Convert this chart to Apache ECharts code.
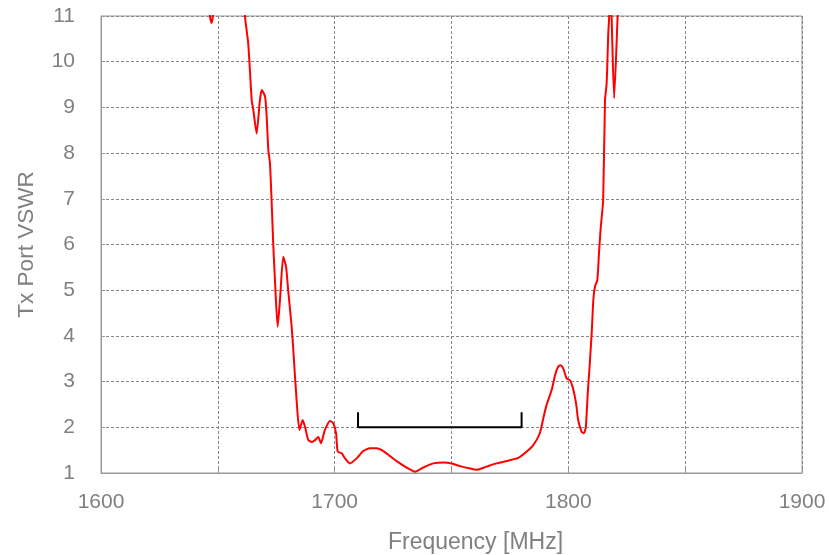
<!DOCTYPE html>
<html>
<head>
<meta charset="utf-8">
<script src="https://cdn.jsdelivr.net/npm/echarts@6/dist/echarts.min.js"></script>
<style>html,body{margin:0;padding:0;background:#fff;}#chart{width:829px;height:555px;}</style>
</head>
<body>
<div id="chart"></div>
<script>
var freq = [1640, 1645.6, 1646.6, 1647.3, 1647.9, 1648.8, 1660.5, 1661.6, 1663.0, 1663.8, 1664.5, 1665.2, 1666.6, 1668.0, 1668.8, 1670.2, 1670.9, 1671.6, 1672.3, 1673.0, 1673.7, 1674.5, 1675.6, 1676.6, 1678.0, 1679.2, 1680.1, 1681.6, 1682.3, 1683.7, 1684.9, 1686.3, 1687.3, 1688.7, 1690.2, 1691.6, 1693.0, 1694.1, 1695.8, 1698.0, 1699.4, 1700.6, 1701.3, 1703.0, 1704.4, 1706.5, 1709.4, 1712.2, 1715.1, 1718.0, 1720.8, 1723.7, 1726.5, 1730.8, 1734.4, 1737.9, 1742.2, 1746.5, 1750.1, 1753.6, 1757.9, 1760.8, 1765.0, 1769.3, 1775.0, 1778.6, 1782.2, 1785.0, 1787.8, 1789.3, 1790.7, 1792.9, 1794.3, 1795.7, 1796.7, 1797.8, 1799.3, 1800.7, 1801.8, 1802.8, 1803.5, 1804.2, 1805.7, 1806.7, 1807.5, 1808.3, 1808.9, 1810.0, 1810.7, 1811.4, 1812.4, 1813.2, 1813.9, 1814.9, 1815.7, 1816.4, 1817.1, 1817.5, 1818.0, 1818.5, 1819.6, 1821.1, 1822.0, 1830];
var vswr = [14, 12, 11.0, 10.85, 11.0, 12, 12, 11.0, 10.4, 9.75, 9.16, 8.94, 8.43, 9.16, 9.38, 9.24, 8.80, 8.07, 7.78, 6.97, 6.03, 5.16, 4.20, 4.79, 5.73, 5.51, 5.0, 4.2, 3.69, 2.6, 1.94, 2.16, 2.01, 1.72, 1.68, 1.72, 1.79, 1.65, 1.94, 2.14, 2.09, 1.87, 1.47, 1.43, 1.32, 1.21, 1.32, 1.48, 1.54, 1.54, 1.48, 1.37, 1.26, 1.12, 1.03, 1.12, 1.21, 1.23, 1.21, 1.15, 1.10, 1.07, 1.14, 1.21, 1.28, 1.33, 1.47, 1.61, 1.87, 2.20, 2.49, 2.82, 3.14, 3.33, 3.36, 3.29, 3.07, 3.03, 2.89, 2.67, 2.45, 2.16, 1.90, 1.87, 2.01, 2.74, 3.18, 4.06, 4.79, 5.08, 5.22, 5.88, 6.39, 6.97, 9.16, 9.53, 10.63, 11.0, 11.6, 11.0, 9.2, 11.0, 12, 14];
var bracketFreq = [1710, 1710, 1780, 1780];
var bracketVswr = [2.33, 2.0, 2.0, 2.33];
var xTicks = [1600, 1700, 1800, 1900];
var yTicks = [1, 2, 3, 4, 5, 6, 7, 8, 9, 10, 11];

var curve = freq.map(function (f, i) { return [f, vswr[i]]; });
var bracket = bracketFreq.map(function (f, i) { return [f, bracketVswr[i]]; });
var gray = '#808080';
var font = 'Liberation Sans, Arial, sans-serif';

var chart = echarts.init(document.getElementById('chart'), null, {renderer: 'canvas'});
chart.setOption({
  animation: false,
  backgroundColor: '#ffffff',
  grid: {left: 101, top: 16, right: 27, bottom: 82, outerBoundsMode: 'none', containLabel: false,
    show: true, borderColor: '#9a9a9a', borderWidth: 1, backgroundColor: 'transparent'},
  xAxis: {
    type: 'value', min: 1600, max: 1900, interval: 50,
    name: 'Frequency [MHz]', nameLocation: 'middle', nameGap: 58,
    nameTextStyle: {color: gray, fontSize: 23, fontFamily: font, padding: [0, 0, 0, 48]},
    axisLine: {show: true, lineStyle: {color: '#9a9a9a', width: 1}},
    axisTick: {show: true, inside: true, length: 4, lineStyle: {color: '#9a9a9a'}},
    axisLabel: {color: gray, fontSize: 21, fontFamily: font, margin: 19,
      formatter: function (v) { return xTicks.indexOf(v) >= 0 ? String(v) : ''; }},
    splitLine: {show: true, lineStyle: {color: '#888888', type: [3, 2], width: 1}}
  },
  yAxis: {
    type: 'value', min: 1, max: 11, interval: 1,
    name: 'Tx Port VSWR', nameLocation: 'middle', nameGap: 63, nameRotate: 90,
    nameTextStyle: {color: gray, fontSize: 22.5, fontFamily: font},
    axisLine: {show: true, lineStyle: {color: '#9a9a9a', width: 1}},
    axisTick: {show: true, inside: true, length: 4, lineStyle: {color: '#9a9a9a'}},
    axisLabel: {color: gray, fontSize: 21, fontFamily: font, margin: 26,
      formatter: function (v) { return yTicks.indexOf(v) >= 0 ? String(v) : ''; }},
    splitLine: {show: true, lineStyle: {color: '#888888', type: [3, 2], width: 1}}
  },
  series: [
    {type: 'line', data: curve, showSymbol: false, symbol: 'none', clip: true, smooth: 0.2,
     lineStyle: {color: '#ff0000', width: 2}, z: 3},
    {type: 'line', data: bracket, showSymbol: false, symbol: 'none',
     lineStyle: {color: '#000000', width: 2}, z: 4}
  ]
});
</script>
</body>
</html>
